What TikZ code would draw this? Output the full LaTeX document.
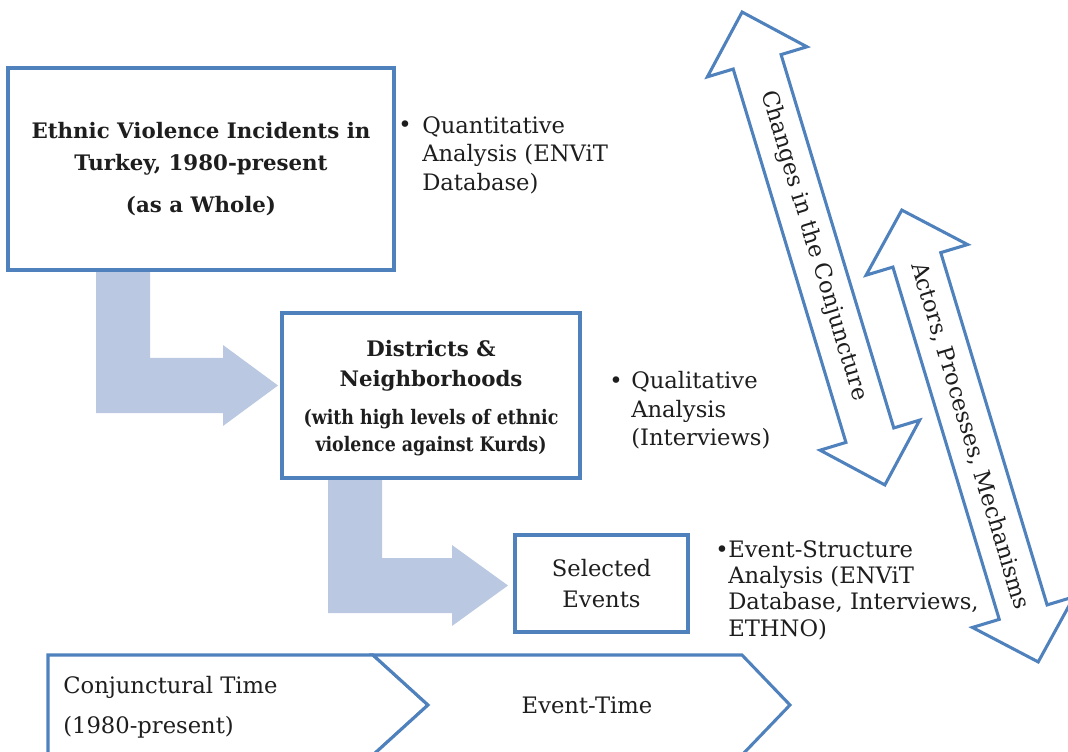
\documentclass[tikz,border=0pt]{standalone}
\usepackage{fontspec}
\setmainfont{DejaVu Serif}
\usetikzlibrary{calc}
\definecolor{edgeblue}{RGB}{79,129,189}
\definecolor{flowfill}{RGB}{186,200,225}
\definecolor{inkgray}{RGB}{30,30,30}
% narrower bold face for the long parenthetical lines
\newcommand\narrowbold{\fontsize{15}{19.5}\selectfont\addfontfeatures{FakeStretch=0.87}}
\begin{document}
\begin{tikzpicture}[x=0.75pt,y=-0.75pt,
  every node/.style={text=inkgray, font=\fontsize{17}{21}\selectfont},
  stage/.style={draw=edgeblue, line width=3pt, fill=white, inner sep=0pt, align=center},
  flow/.style={fill=flowfill, draw=none},
  twoway/.style={draw=edgeblue, line width=2.3pt, fill=white, line join=miter},
  chev/.style={draw=edgeblue, line width=2.3pt, fill=white, line join=miter},
  note/.style={align=left, anchor=north west, inner sep=0pt, font=\fontsize{17}{21.4}\selectfont},
  dot/.style={anchor=base, inner sep=0pt},
  boldtext/.style={font=\bfseries\fontsize{16}{24}\selectfont},
]
\useasboundingbox (0,0) rectangle (1068,752);
\clip (0,0) rectangle (1068,752);

% bent flow arrows between the three levels
\fill[flow] (96,270) -- (150,270) -- (150,358) -- (223,358) -- (223,345)
  -- (278,385.5) -- (223,426) -- (223,413) -- (96,413) -- cycle;
\fill[flow] (328,478) -- (382,478) -- (382,558) -- (452,558) -- (452,545)
  -- (508,585.5) -- (452,626) -- (452,613) -- (328,613) -- cycle;

% the three levels of analysis
\node[stage, boldtext, minimum width=289.5pt, minimum height=151.5pt] (whole) at (201,169)
  {Ethnic Violence Incidents in\\Turkey, 1980-present\\[7pt](as a Whole)};
\node[stage, boldtext, minimum width=223.5pt, minimum height=123.75pt,
  font=\bfseries\fontsize{16}{22.5}\selectfont] (district) at (431,395.5)
  {\\[-6pt]Districts \&\\Neighborhoods\\[5.5pt]\narrowbold(with high levels of ethnic\\[-2pt]\narrowbold violence against Kurds)};
\node[stage, minimum width=129.75pt, minimum height=72.75pt,
  font=\fontsize{17}{23.25}\selectfont] (events) at (601.5,583.5)
  {Selected\\Events};

% methods attached to each level
\node[dot] (b1) at (405,133) {•};
\node[note] (quant) at (422,116) {Quantitative\\Analysis (ENViT\\Database)};
\node[dot] (b2) at (616,388) {•};
\node[note] (qual) at (631,371) {Qualitative\\Analysis\\(Interviews)};
\node[dot] (b3) at (722,557) {•};
\node[note, font=\fontsize{17}{19.8}\selectfont] (esa) at (728,540)
  {Event-Structure\\Analysis (ENViT\\Database, Interviews,\\ETHNO)};

% two-headed arrows along the right side
\begin{scope}[shift={(813.5,248.5)}, rotate=-73.2]
  \draw[twoway] (-247,0) -- (-195,52) -- (-195,25) -- (195,25) -- (195,52) -- (247,0)
    -- (195,-52) -- (195,-25) -- (-195,-25) -- (-195,-52) -- cycle;
\end{scope}
\node[rotate=-73.2] (conj) at (813.5,246) {Changes in the Conjuncture};
\begin{scope}[shift={(970,436)}, rotate=-73.2]
  \draw[twoway] (-236,0) -- (-184,53) -- (-184,25) -- (184,25) -- (184,53) -- (236,0)
    -- (184,-53) -- (184,-25) -- (-184,-25) -- (-184,-53) -- cycle;
\end{scope}
\node[rotate=-73.2] (apm) at (970,436) {Actors, Processes, Mechanisms};

% time chevrons along the bottom
\draw[chev] (48,655) -- (373,655) -- (428,705) -- (373,755) -- (48,755) -- cycle;
\draw[chev] (373,655) -- (742,655) -- (790,705) -- (742,755) -- (373,755) -- (428,705) -- cycle;
\node[align=left, anchor=west, inner sep=0pt] (ctime) at (63,707)
  {Conjunctural Time\\[9pt](1980-present)};
\node (etime) at (587,705) {Event-Time};
\end{tikzpicture}
\end{document}
